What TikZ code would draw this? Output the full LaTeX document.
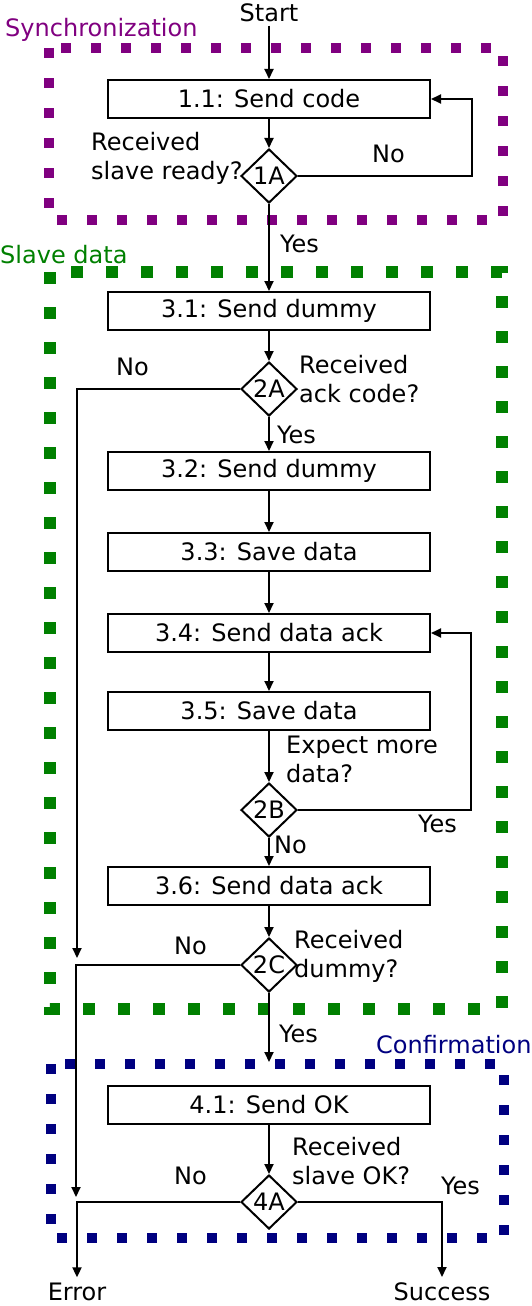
\documentclass[tikz,border=0pt]{standalone}
\usepackage{fontspec}
\setmainfont{DejaVu Sans}
\usetikzlibrary{shapes.geometric,arrows.meta}
\definecolor{syncpurple}{RGB}{128,0,128}
\definecolor{datagreen}{RGB}{0,128,0}
\definecolor{confnavy}{RGB}{0,0,128}
\begin{document}
\begin{tikzpicture}[x=1pt,y=-1pt,
  every node/.style={font=\fontsize{24}{29}\selectfont, inner sep=0pt},
  stepbox/.style={draw, line width=2pt, minimum width=322pt, minimum height=38pt},
  decision/.style={draw, diamond, aspect=1, line width=2pt, minimum width=56pt, minimum height=54pt},
  flow/.style={line width=2pt, -{Triangle[length=10pt,width=9pt]}},
  note/.style={anchor=base west, align=left},
  syncgroup/.style={draw=syncpurple, line width=10pt, dash pattern=on 10pt off 20pt},
  datagroup/.style={draw=datagreen, line width=12pt, dash pattern=on 12pt off 23pt},
  confgroup/.style={draw=confnavy, line width=10pt, dash pattern=on 10pt off 20pt}
]
\useasboundingbox (0,0) rectangle (531,1306);

% phase frames
\draw[syncgroup] (49,48) rectangle (503,220);
\draw[datagroup] (50,272) rectangle (502,1009);
\draw[confgroup] (51,1064) rectangle (504,1238);

\node[note, text=syncpurple] (tsync) at (5,37) {Synchronization};
\node[note, text=datagreen] (tdata) at (0,263) {Slave data};
\node[note, text=confnavy] (tconf) at (376,1053) {Confirmation};

% steps and decisions
\node[anchor=base, inner ysep=3pt] (start) at (269,22) {Start};
\node[stepbox] (s11) at (269,99) {1.1: Send code};
\node[decision] (d1a) at (269,176) {1A};
\node[stepbox] (s31) at (269,311) {3.1: Send dummy};
\node[decision] (d2a) at (269,389) {2A};
\node[stepbox] (s32) at (269,471) {3.2: Send dummy};
\node[stepbox] (s33) at (269,552) {3.3: Save data};
\node[stepbox] (s34) at (269,633) {3.4: Send data ack};
\node[stepbox] (s35) at (269,711) {3.5: Save data};
\node[decision] (d2b) at (269,810) {2B};
\node[stepbox] (s36) at (269,886) {3.6: Send data ack};
\node[decision] (d2c) at (269,965) {2C};
\node[stepbox] (s41) at (269,1105) {4.1: Send OK};
\node[decision] (d4a) at (269,1202) {4A};
\node[anchor=base, inner ysep=5pt] (err) at (77,1300) {Error};
\node[anchor=base, inner ysep=5pt] (ok) at (442,1300) {Success};

% question texts (placed by the baseline of their last line)
\node[note] (q1a) at (91,179) {Received\\slave ready?};
\node[note] (q2a) at (299,402) {Received\\ack code?};
\node[note] (q2b) at (286,782) {Expect more\\data?};
\node[note] (q2c) at (294,977) {Received\\dummy?};
\node[note] (q4a) at (292,1184) {Received\\slave OK?};

% branch labels
\node[note] (n1a) at (372,162) {No};
\node[note] (y1a) at (280,252) {Yes};
\node[note] (n2a) at (116,375) {No};
\node[note] (y2a) at (277,443) {Yes};
\node[note] (y2b) at (418,832) {Yes};
\node[note] (n2b) at (274,853) {No};
\node[note] (n2c) at (174,954) {No};
\node[note] (y2c) at (279,1042) {Yes};
\node[note] (n4a) at (174,1184) {No};
\node[note] (y4a) at (441,1194) {Yes};

% bend and end points
\coordinate (loopA) at (472,0);
\coordinate (loopB) at (471,0);
\coordinate (errA) at (77,958);
\coordinate (errB) at (76,1197);
\coordinate (confin) at (0,1062);

% connectors
\draw[flow] (start) -- (s11);
\draw[flow] (s11) -- (d1a);
\draw[flow] (d1a.east) -- (d1a.east -| loopA) |- (s11.east);
\draw[flow] (d1a) -- (s31);
\draw[flow] (s31) -- (d2a);
\draw[flow] (d2a.west) -| (errA);
\draw[flow] (d2a) -- (s32);
\draw[flow] (s32) -- (s33);
\draw[flow] (s33) -- (s34);
\draw[flow] (s34) -- (s35);
\draw[flow] (s35) -- (d2b);
\draw[flow] (d2b.east) -- (d2b.east -| loopB) |- (s34.east);
\draw[flow] (d2b) -- (s36);
\draw[flow] (s36) -- (d2c);
\draw[flow] (d2c.west) -| (errB);
\draw[flow] (d2c.south) -- (d2c.south |- confin);
\draw[flow] (s41) -- (d4a);
\draw[flow] (d4a.west) -| (err.north);
\draw[flow] (d4a.east) -| (ok.north);
\end{tikzpicture}
\end{document}
